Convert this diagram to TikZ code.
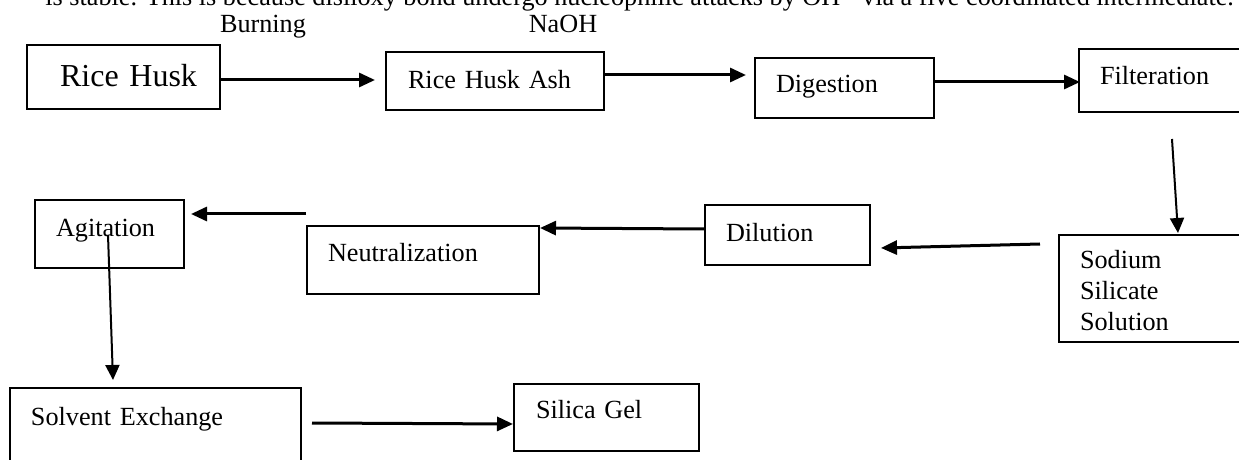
\documentclass[tikz,border=0pt]{standalone}
\usepackage{fontspec}
\setmainfont{Liberation Serif}
\usepackage{tikz}
\usetikzlibrary{positioning}
\usetikzlibrary{calc}
\usetikzlibrary{arrows.meta}

\begin{document}
\begin{tikzpicture}[x=0.5pt,y=-0.5pt]
% les styles
\tikzstyle boitesilice=[draw,line width=1pt,anchor=north west,inner ysep=0pt,inner xsep=10.5pt,align=left,font=\fontsize{13.1}{15.5}\selectfont]
\tikzstyle flechesilice=[line width=1.5pt,-{Triangle[length=8pt,width=7pt]}]
\tikzstyle flechesilicefine=[line width=1pt,-{Triangle[length=7.5pt,width=7pt]}]
\tikzstyle textesilice=[anchor=base,inner sep=0pt,font=\fontsize{13.1}{15.5}\selectfont]
% le cadre
\useasboundingbox (0,0) rectangle (1239,460);
\clip (0,0) rectangle (1239,460);
% la phrase du dessus (coupee)
\node[textesilice,anchor=base west] (phrase) at (45,6) {is stable. This is because disiloxy bond undergo nucleophilic attacks by OH$^{-}$ via a five coordinated intermediate.};
% les etiquettes
\node[textesilice] (brulage) at (263,33) {Burning};
\node[textesilice] (soude) at (563,33) {NaOH};
% les boites
\node[boitesilice,font=\fontsize{16}{19}\selectfont,inner xsep=11.5pt,text width=73.5pt,align=right,text height=21pt,text depth=11pt] (rh) at (26,44) {Rice Husk};
\node[boitesilice,inner xsep=11pt,text width=87pt,text height=18.5pt,text depth=10.5pt] (rha) at (385,51) {Rice Husk Ash};
\node[boitesilice,text width=68.5pt,text height=17.5pt,text depth=12.5pt] (dig) at (754,57) {Digestion};
\node[boitesilice,text width=79pt,text height=18pt,text depth=13.5pt] (fil) at (1078,48) {Filteration};
\node[boitesilice,text width=79pt,text height=17pt,text depth=36.5pt] (sod) at (1058,234) {Sodium\\Silicate\\Solution};
\node[boitesilice,text width=61.5pt,text height=18.5pt,text depth=11.5pt] (dil) at (704,204) {Dilution};
\node[boitesilice,text width=95pt,text height=18pt,text depth=16pt] (neu) at (306,225) {Neutralization};
\node[boitesilice,text width=53.5pt,text height=18.5pt,text depth=15.5pt] (agi) at (34,199) {Agitation};
\node[boitesilice,text width=124.5pt,text height=18.5pt,text depth=31.5pt] (sol) at (9,387) {Solvent Exchange};
\node[boitesilice,inner xsep=11pt,text width=70.5pt,text height=17pt,text depth=16.5pt] (sil) at (513,383) {Silica Gel};
% les fleches
\draw[flechesilice] ($(rh.east)+(0,3)$) -- ($(rha.west)+(-10,-1)$);
\draw[flechesilice] ($(rha.east)+(0,-6)$) -- ($(dig.west)+(-8,-13)$);
\draw[flechesilice] ($(dig.east)+(0,-6)$) -- ($(fil.west)+(2,1.5)$);
\draw[flechesilicefine] ($(fil.south west)+(94,26)$) -- ($(sod.north west)+(120,-1)$);
\draw[flechesilice] ($(sod.north west)+(-18,10)$) -- ($(dil.north east)+(10,44)$);
\draw[flechesilice] ($(dil.west)+(0,-6)$) -- ($(neu.north east)+(0,3)$);
\draw[flechesilice] ($(neu.north west)+(0,-11)$) -- ($(agi.north east)+(6,15)$);
\draw[flechesilicefine] ($(agi.north west)+(74,36)$) -- ($(sol.north west)+(104,-7)$);
\draw[flechesilice] ($(sol.north east)+(10,36)$) -- ($(sil.west)+(0,6.5)$);
\end{tikzpicture}
\end{document}
